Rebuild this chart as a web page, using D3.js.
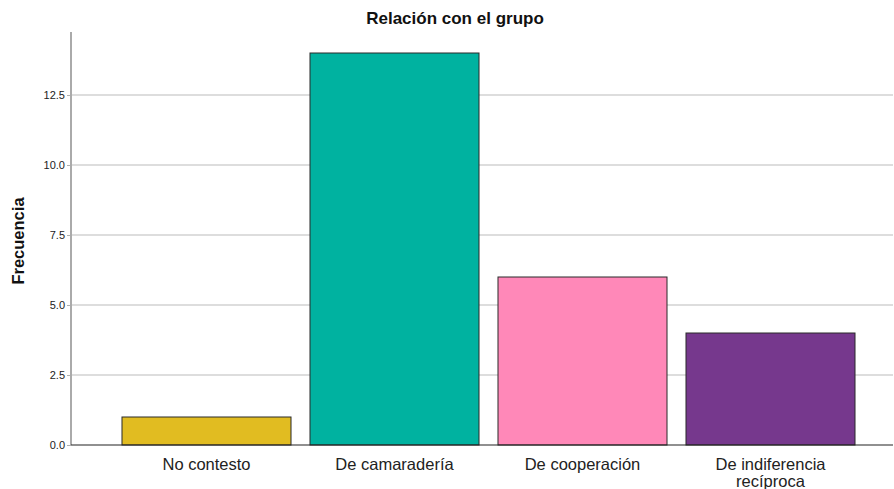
<!DOCTYPE html>
<html>
<head>
<meta charset="utf-8">
<script src="https://cdn.jsdelivr.net/npm/d3@7.9.0/dist/d3.min.js"></script>
<style>
  body { margin: 0; background: #fff; }
  svg { display: block; font-family: Arial, "Liberation Sans", sans-serif; }
</style>
</head>
<body>
<div id="chart"></div>
<script>
// data
const categories = ['No contesto', 'De camaradería', 'De cooperación', 'De indiferencia recíproca'];
const labelLines = [['No contesto'], ['De camaradería'], ['De cooperación'], ['De indiferencia', 'recíproca']];
const counts = [1, 14, 6, 4];
const colors = ['#E1BC21', '#00B2A0', '#FF88B8', '#76388D'];
const yTicks = [0, 2.5, 5, 7.5, 10, 12.5];

const width = 894;
const height = 489;
const plot = { left: 71, right: 893, top: 32, bottom: 445 };

const svg = d3.select('#chart')
  .append('svg')
  .attr('width', width)
  .attr('height', height);

const xScale = d3.scaleBand()
  .domain(categories)
  .range([112.5, 864.5])
  .paddingInner(0.101)
  .paddingOuter(0.0505);

const yScale = d3.scaleLinear()
  .domain([0, 14.75])
  .range([plot.bottom, plot.top]);

// gridlines
svg.append('g')
  .selectAll('line')
  .data(yTicks.filter((d) => d > 0))
  .join('line')
  .attr('x1', plot.left)
  .attr('x2', plot.right)
  .attr('y1', (d) => yScale(d))
  .attr('y2', (d) => yScale(d))
  .attr('stroke', '#d2d2d2')
  .attr('stroke-width', 1.5);

// y axis
const yAxis = d3.axisLeft(yScale)
  .tickValues(yTicks)
  .tickFormat(d3.format('.1f'))
  .tickSize(4)
  .tickPadding(2);

const yg = svg.append('g')
  .attr('transform', `translate(${plot.left},0)`)
  .call(yAxis);
yg.select('.domain').remove();
yg.selectAll('.tick line').attr('stroke', '#b0b0b0');
yg.selectAll('.tick text')
  .attr('fill', '#222')
  .style('font-size', '11px');

svg.append('line')
  .attr('x1', plot.left).attr('x2', plot.left)
  .attr('y1', plot.top).attr('y2', plot.bottom)
  .attr('stroke', '#aaaaaa')
  .attr('stroke-width', 2);

// bars
svg.append('g')
  .selectAll('rect')
  .data(counts)
  .join('rect')
  .attr('x', (d, i) => xScale(categories[i]))
  .attr('y', (d) => yScale(d))
  .attr('width', xScale.bandwidth())
  .attr('height', (d) => yScale(0) - yScale(d))
  .attr('fill', (d, i) => colors[i])
  .attr('stroke', '#2a2a2a')
  .attr('stroke-width', 1);

// x axis line
svg.append('line')
  .attr('x1', plot.left).attr('x2', plot.right)
  .attr('y1', plot.bottom).attr('y2', plot.bottom)
  .attr('stroke', '#222')
  .attr('stroke-width', 1.2);

// category labels
const labels = svg.append('g')
  .selectAll('text')
  .data(categories)
  .join('text')
  .attr('x', (d) => xScale(d) + xScale.bandwidth() / 2)
  .attr('y', 470)
  .attr('text-anchor', 'middle')
  .attr('fill', '#222')
  .style('font-size', '16.5px');

labels.each(function (d, i) {
  d3.select(this)
    .selectAll('tspan')
    .data(labelLines[i])
    .join('tspan')
    .attr('x', xScale(d) + xScale.bandwidth() / 2)
    .attr('dy', (t, j) => (j === 0 ? 0 : 17))
    .text((t) => t);
});

// title
svg.append('text')
  .attr('x', 455)
  .attr('y', 24)
  .attr('text-anchor', 'middle')
  .style('font-size', '17px')
  .style('font-weight', 'bold')
  .attr('fill', '#111')
  .text('Relación con el grupo');

// y label
svg.append('text')
  .attr('transform', 'translate(24,241) rotate(-90)')
  .attr('text-anchor', 'middle')
  .style('font-size', '16.5px')
  .style('font-weight', 'bold')
  .attr('fill', '#111')
  .text('Frecuencia');
</script>
</body>
</html>
